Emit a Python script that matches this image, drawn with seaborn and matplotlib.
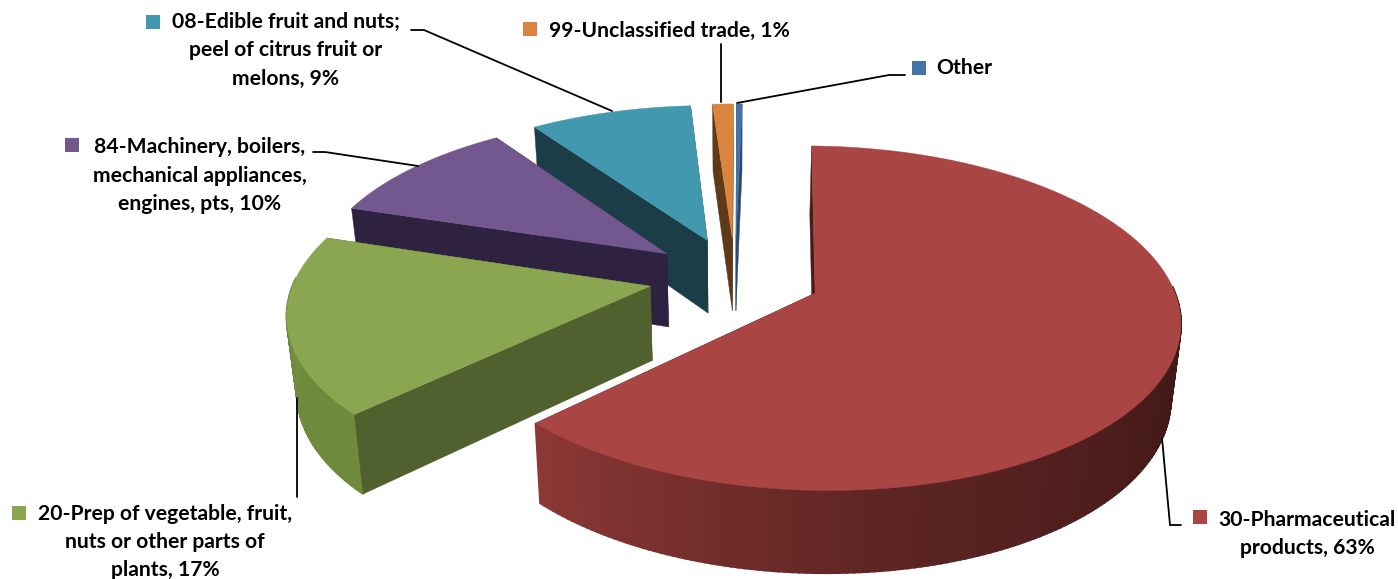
import numpy as np
import matplotlib
matplotlib.use("Agg")
import matplotlib.pyplot as plt
import seaborn as sns

sns.set_style("white")
plt.rcParams['font.family'] = ['Lato', 'DejaVu Sans']

# shares in pie order, clockwise from 12 o'clock
categories = ["30-Pharmaceutical products", "20-Prep of vegetable, fruit, nuts or other parts of plants",
              "84-Machinery, boilers, mechanical appliances, engines, pts",
              "08-Edible fruit and nuts; peel of citrus fruit or melons",
              "99-Unclassified trade", "Other"]
shares = [62.6, 17.1, 10.5, 8.6, 1.1, 0.3]
top_colors = ["#A94543", "#8BA651", "#72588E", "#4198AF", "#DB843D", "#4572A7"]
cut_colors = ["#4A1C1A", "#50602E", "#2E2240", "#1B3D47", "#5E3A18", "#2C4A70"]
wall_left = ["#8C3836", "#85A24C", "#3A2A52", "#2A6070", "#7A4A1E", "#3A5F8C"]
wall_right = ["#431A18", "#6F8A3C", "#3A2A52", "#2A6070", "#7A4A1E", "#3A5F8C"]

# projection of the tilted pie
CX, CY = 735, 277
A, B, K = 355, 164, 0.143
EXPLODE = 0.243
START_ANGLE = 1.2


def project(X, Y, bottom=False):
    w = 1 + K * Y
    x = CX + A * X / w
    y = CY - B * Y / w
    if bottom:
        x = CX + (x - CX) * 0.977
        y = y + 74 + (y - CY) * 0.04
    return x, y


def cut_face(ox, oy, t, color):
    rim_x, rim_y = ox + np.sin(t), oy + np.cos(t)
    p = [project(ox, oy), project(rim_x, rim_y), project(rim_x, rim_y, True), project(ox, oy, True)]
    ax.fill(*zip(*p), color=color, lw=0.3)


fig, ax = plt.subplots(figsize=(13.98, 5.79), dpi=100)
fig.subplots_adjust(0, 0, 1, 1)
ax.set_xlim(0, 1398)
ax.set_ylim(579, 0)
ax.axis("off")

edges = np.radians(np.cumsum([0] + shares) / sum(shares) * 360 + START_ANGLE)

# back slices first, red one last
for i in [5, 4, 3, 2, 1, 0]:
    t0, t1 = edges[i], edges[i + 1]
    mid = (t0 + t1) / 2
    ox, oy = EXPLODE * np.sin(mid), EXPLODE * np.cos(mid)
    th = np.linspace(t0, t1, max(int((t1 - t0) * 60), 3))
    rx, ry = ox + np.sin(th), oy + np.cos(th)

    # far cut face goes under the wall
    cut_face(ox, oy, t1, cut_colors[i])

    # outer wall, strips shaded along the arc, only the part facing us
    mix = sns.blend_palette([wall_right[i], wall_left[i]], 4)[1]
    shades = sns.blend_palette([wall_right[i], wall_right[i], wall_right[i], mix, wall_left[i]], len(th))
    for j in range(len(th) - 1):
        if np.cos(th[j]) > 0.05:
            continue
        xa, ya = project(rx[j:j + 2], ry[j:j + 2])
        xb, yb = project(rx[j:j + 2], ry[j:j + 2], True)
        ax.fill(np.r_[xa, xb[::-1]], np.r_[ya, yb[::-1]], color=shades[j], lw=1.5)

    cut_face(ox, oy, t0, cut_colors[i])

    # top face
    tx, ty = project(np.r_[ox, rx], np.r_[oy, ry])
    ax.fill(tx, ty, color=top_colors[i], lw=0.3)

# leader lines
leaders = [
    ([1162, 1170, 1181], [438, 525, 525]),
    ([297, 297], [398, 497]),
    ([313, 325, 418], [152, 152, 166]),
    ([411, 424, 612], [30, 30, 111]),
    ([721, 721], [102, 44]),
    ([737, 889, 905], [103, 75, 75]),
]
for lx, ly in leaders:
    ax.plot(lx, ly, color="black", lw=1.3, solid_joinstyle="miter")

# labels: text lines, centre x, first line y, key position
labels = [
    (["30-Pharmaceutical", "products, 63%"], 1307, 519.5, (1199.5, 517)),
    (["20-Prep of vegetable, fruit,", "nuts or other parts of", "plants, 17%"], 165, 513.5, (18.5, 512.5)),
    (["84-Machinery, boilers,", "mechanical appliances,", "engines, pts, 10%"], 200, 147, (72, 144.5)),
    (["08-Edible fruit and nuts;", "peel of citrus fruit or", "melons, 9%"], 286, 22, (153, 22)),
    (["99-Unclassified trade, 1%"], 669, 31, (530, 29)),
    (["Other"], 964, 68, (918.5, 67.5)),
]
for i, (lines, x, y, key) in enumerate(labels):
    ax.scatter(*key, marker="s", s=105, color=top_colors[i], linewidths=0)
    for n, line in enumerate(lines):
        ax.text(x, y + n * 28.5, line, ha="center", va="center", fontsize=15.2, fontweight="bold", color="black")

fig.savefig("out.png", dpi=100)
